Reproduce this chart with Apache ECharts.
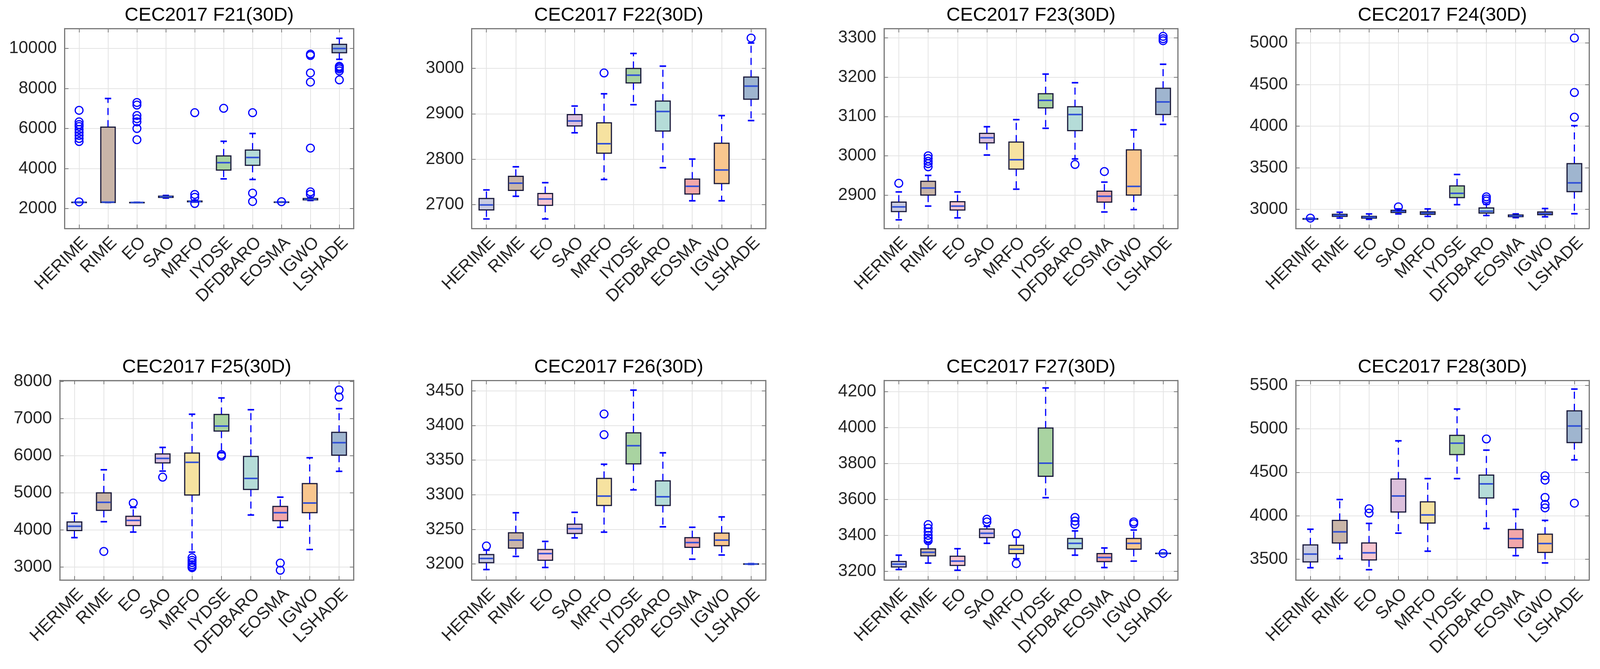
<!DOCTYPE html>
<html><head><meta charset="utf-8">
<script src="https://cdn.jsdelivr.net/npm/echarts@6/dist/echarts.min.js"></script>
<style>html,body{margin:0;padding:0;background:#fff;overflow:hidden}#c{width:100vw;height:100vh}</style>
</head><body><div id="c"></div>
<script>
const categories = ['HERIME','RIME','EO','SAO','MRFO','IYDSE','DFDBARO','EOSMA','IGWO','LSHADE'];
const titles = ['CEC2017 F21(30D)','CEC2017 F22(30D)','CEC2017 F23(30D)','CEC2017 F24(30D)',
                'CEC2017 F25(30D)','CEC2017 F26(30D)','CEC2017 F27(30D)','CEC2017 F28(30D)'];

// five-number summaries per category: [lower whisker, Q1, median, Q3, upper whisker]
const f21Box = [[2300,2305,2310,2315,2320],[2300,2300,2320,6070,7500],[2290,2295,2300,2305,2310],[2520,2555,2585,2615,2650],[2320,2335,2350,2370,2400],
                [3480,3920,4290,4630,5360],[3450,4160,4550,4920,5750],[2315,2318,2320,2322,2325],[2400,2430,2460,2500,2560],[9460,9790,10000,10210,10510]];
const f21Outliers = [[6910,6330,6200,6100,5950,5800,5650,5500,5350,2330],[],[7300,7170,6650,6490,6330,6000,5440],[],[6790,2700,2560,2250],
                     [7010],[6790,2770,2350],[2340],[9720,9650,8780,8320,5020,2830,2710],[9110,9050,8980,8880,8430]];

const f22Box = [[2668,2688,2699,2713,2732],[2718,2731,2747,2762,2783],[2668,2698,2712,2724,2748],[2858,2873,2884,2898,2917],[2755,2813,2834,2880,2944],
                [2920,2968,2985,3000,3033],[2781,2862,2905,2928,3005],[2708,2723,2740,2756,2800],[2708,2746,2776,2835,2896],[2885,2932,2961,2981,3056]];
const f22Outliers = [[],[],[],[],[2990],[],[],[],[],[3067]];

const f23Box = [[2837,2858,2870,2882,2908],[2872,2900,2918,2935,2950],[2842,2862,2872,2883,2908],[3002,3033,3046,3057,3074],[2915,2966,2990,3035,3092],
                [3070,3122,3141,3158,3208],[2992,3064,3105,3125,3186],[2857,2882,2897,2910,2933],[2863,2900,2922,3015,3066],[3080,3105,3137,3172,3233]];
const f23Outliers = [[2930],[3000,2993,2986,2980,2972],[],[],[],[],[2978],[2960],[],[3304,3298,3293]];

const f24Box = [[2878,2882,2886,2889,2893],[2895,2915,2928,2940,2965],[2880,2895,2905,2915,2945],[2945,2962,2975,2988,3005],[2915,2940,2955,2970,3005],
                [3056,3141,3192,3282,3419],[2926,2955,2978,3016,3060],[2900,2912,2922,2932,2945],[2910,2935,2950,2968,3010],[2947,3213,3318,3549,4006]];
const f24Outliers = [[2895],[],[],[3030],[],[],[3150,3125,3100],[],[],[4108,4405,5060]];

const f25Box = [[3791,3983,4098,4213,4446],[4220,4527,4742,4997,5620],[3941,4115,4255,4366,4603],[5585,5805,5927,6048,6223],[3400,4940,5822,6073,7118],
                [6080,6665,6797,7111,7557],[4401,5091,5387,5979,7239],[4070,4248,4464,4631,4882],[3471,4464,4725,5248,5944],[5578,6014,6351,6630,7268]];
const f25Outliers = [[],[3419],[4725],[5421],[3250,3180,3120,3060,3010,2980],[6030,5990],[],[3105,2913],[],[7772,7581]];

const f26Box = [[3192,3202,3208,3213.6,3220],[3211,3223,3234.5,3245,3274],[3195,3205.5,3215,3221,3232.6],[3237.7,3244,3251,3257.4,3274.6],[3246,3284.5,3298,3323.5,3344],
                [3307,3344.6,3370.7,3389.4,3451],[3253.7,3284.5,3297,3320,3360.5],[3207,3224,3231,3238,3253],[3213,3226.5,3234.5,3244.7,3268],[3199.5,3199.8,3200,3200.3,3200.5]];
const f26Outliers = [[3226],[],[],[],[3416.5,3386.6],[],[],[],[],[]];

const f27Box = [[3210,3224.5,3240,3255,3290],[3246,3286,3306,3325,3359],[3206,3233,3257,3284,3326],[3356,3388,3412,3436,3450],[3270,3299,3323,3345,3390],
                [3610,3729,3802,3998,4221],[3290,3326,3356,3383,3425],[3221,3254,3277,3299,3330],[3257,3323,3356,3383,3430],[3298,3299,3300,3301,3302]];
const f27Outliers = [[],[3460,3440,3420,3400,3385,3370],[],[3490,3475],[3410,3243],[],[3500,3480,3460],[],[3475,3465],[3300]];

const f28Box = [[3401,3468,3558,3664,3844],[3506,3686,3814,3946,4186],[3378,3491,3573,3686,3911],[3799,4042,4227,4422,4862],[3591,3916,4009,4159,4427],
                [4427,4703,4835,4925,5228],[3851,4204,4366,4467,4755],[3540,3631,3736,3841,4072],[3456,3577,3679,3787,3946],[4643,4842,5033,5207,5458]];
const f28Outliers = [[],[],[4080,4030],[],[],[],[4883],[],[4460,4410,4210,4130,4090],[4144]];

// y-axis limits and tick step for each panel
const yRanges = [[1000,11000],[2647,3088],[2815,3324],[2770,5174],[2650,8030],[3177,3465],[3152,4263],[3260,5558]];
const yTickSteps = [2000,100,100,500,1000,50,200,500];

const panelBoxes = [f21Box,f22Box,f23Box,f24Box,f25Box,f26Box,f27Box,f28Box];
const panelOutliers = [f21Outliers,f22Outliers,f23Outliers,f24Outliers,f25Outliers,f26Outliers,f27Outliers,f28Outliers];

// layout (pixels at the 4233 x 1713 design size)
const gridRects = [
  [171,73,765,512],[1248,73,778,512],[2339,73,777,512],[3428,73,776,512],
  [158,974,778,511],[1248,974,778,511],[2339,974,777,511],[3428,974,776,511]
];
const boxColors = ['#c9cbe0','#c9b5a8','#f7c5d0','#dcc0dc','#f6e2a0','#a9d3a1','#b5dcd8','#f2a7aa','#f9c68e','#9fb5cf'];
const FONT = '"Liberation Sans", Arial, Helvetica, sans-serif';
const frameColor = '#7a7a7a';
const gridColor = '#e4e4e4';
const whiskerColor = '#0000ff';
const boxEdge = '#1b1b3c';
const medianColor = '#2f4fd6';

const el = document.getElementById('c');
const W = el.clientWidth || 4233, H = el.clientHeight || 1713;
const sx = W / 4233, sy = H / 1713;
const chart = echarts.init(el, null, {renderer:'canvas', width:W, height:H, devicePixelRatio:1});

function renderBox(params, api) {
  const x = api.value(0);
  const lo = api.coord([x, api.value(1)]);
  const q1 = api.coord([x, api.value(2)]);
  const md = api.coord([x, api.value(3)]);
  const q3 = api.coord([x, api.value(4)]);
  const hi = api.coord([x, api.value(5)]);
  const ci = api.value(6);
  const bw = api.size([0.5, 0])[0];
  const cw = api.size([0.22, 0])[0];
  const cx = lo[0];
  const dash = {stroke: whiskerColor, lineWidth: 3, lineDash: [18, 13]};
  const cap = {stroke: whiskerColor, lineWidth: 4};
  return {type:'group', children:[
    {type:'line', shape:{x1:cx, y1:q3[1], x2:cx, y2:hi[1]}, style:dash},
    {type:'line', shape:{x1:cx, y1:q1[1], x2:cx, y2:lo[1]}, style:dash},
    {type:'line', shape:{x1:cx-cw/2, y1:hi[1], x2:cx+cw/2, y2:hi[1]}, style:cap},
    {type:'line', shape:{x1:cx-cw/2, y1:lo[1], x2:cx+cw/2, y2:lo[1]}, style:cap},
    {type:'rect', shape:{x:cx-bw/2, y:q3[1], width:bw, height:Math.max(q1[1]-q3[1], 1)},
      style:{fill: boxColors[ci], stroke: boxEdge, lineWidth: 3}},
    {type:'line', shape:{x1:cx-bw/2+2, y1:md[1], x2:cx+bw/2-2, y2:md[1]}, style:{stroke: medianColor, lineWidth: 4}}
  ]};
}

const grid = [], xAxis = [], yAxis = [], series = [], title = [];
const N = gridRects.length;
for (let i = 0; i < N; i++) {
  const [l0, t0, w0, h0] = gridRects[i];
  const l = l0 * sx, t = t0 * sy, w = w0 * sx, h = h0 * sy;
  grid.push({left:l, top:t, width:w, height:h, containLabel:false});
  title.push({text: titles[i], left: l + w/2, top: t - 58 * sy, textAlign:'center', padding:0,
    textStyle:{fontFamily:FONT, fontSize:49, fontWeight:'normal', color:'#000'}});
  const step = yTickSteps[i];
  xAxis.push({gridIndex:i, type:'value', min:0.5, max:10.5, splitNumber:10, position:'bottom',
    axisLine:{show:true, onZero:false, lineStyle:{color:frameColor, width:3}},
    axisTick:{show:true, inside:true, length:10, lineStyle:{color:frameColor, width:2}},
    axisLabel:{show:true, rotate:45, margin:14, align:'right', verticalAlign:'top', fontSize:44, fontFamily:FONT, color:'#262626',
      showMinLabel:true, showMaxLabel:true,
      formatter: v => (Math.abs(v - Math.round(v)) < 1e-6 && v >= 1 && v <= categories.length) ? categories[Math.round(v)-1] : ''},
    splitLine:{show:true, lineStyle:{color:gridColor, width:2}}});
  yAxis.push({gridIndex:i, type:'value', min:yRanges[i][0], max:yRanges[i][1], splitNumber:5, position:'left',
    axisLine:{show:true, onZero:false, lineStyle:{color:frameColor, width:3}},
    axisTick:{show:true, inside:true, length:10, lineStyle:{color:frameColor, width:2}},
    axisLabel:{show:true, margin:20, fontSize:44, fontFamily:FONT, color:'#262626',
      showMinLabel:true, showMaxLabel:true,
      formatter: v => (Math.abs(v/step - Math.round(v/step)) < 1e-6) ? String(Math.round(v)) : ''},
    splitLine:{show:true, lineStyle:{color:gridColor, width:2}}});
}
for (let i = 0; i < N; i++) {
  xAxis.push({gridIndex:i, type:'value', min:0.5, max:10.5, splitNumber:10, position:'top',
    axisLine:{show:true, onZero:false, lineStyle:{color:frameColor, width:3}},
    axisTick:{show:true, inside:true, length:10, lineStyle:{color:frameColor, width:2}},
    axisLabel:{show:false}, splitLine:{show:false}});
  yAxis.push({gridIndex:i, type:'value', min:yRanges[i][0], max:yRanges[i][1], splitNumber:5, position:'right',
    axisLine:{show:true, onZero:false, lineStyle:{color:frameColor, width:3}},
    axisTick:{show:true, inside:true, length:10, lineStyle:{color:frameColor, width:2}},
    axisLabel:{show:false}, splitLine:{show:false}});
}
for (let i = 0; i < N; i++) {
  const boxData = panelBoxes[i].map((b, k) => [k + 1, b[0], b[1], b[2], b[3], b[4], k]);
  series.push({type:'custom', xAxisIndex:i, yAxisIndex:i, renderItem:renderBox, data:boxData,
    encode:{x:0, y:[1,2,3,4,5]}, z:2, silent:true, clip:false});
  const outData = [];
  panelOutliers[i].forEach((arr, k) => arr.forEach(v => outData.push([k + 1, v])));
  series.push({type:'scatter', xAxisIndex:i, yAxisIndex:i, data:outData, symbol:'circle', symbolSize:20,
    itemStyle:{color:'rgba(0,0,0,0)', borderColor:whiskerColor, borderWidth:3, opacity:1}, z:3, silent:true});
}

chart.setOption({backgroundColor:'#ffffff', animation:false, title, grid, xAxis, yAxis, series});
</script></body></html>
